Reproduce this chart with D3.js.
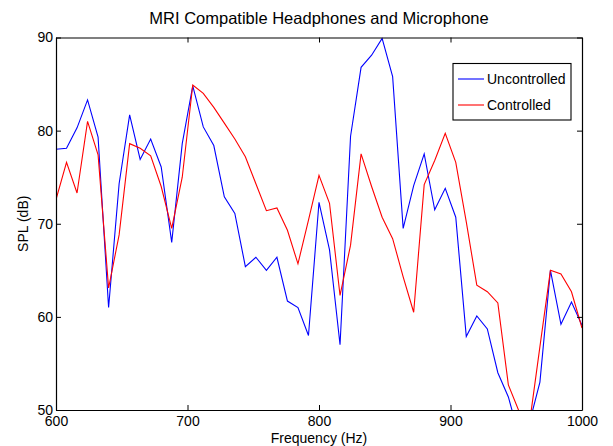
<!DOCTYPE html>
<html><head><meta charset="utf-8">
<script src="https://cdn.jsdelivr.net/npm/d3@7"></script>
<style>body{margin:0;background:#fff}svg{display:block}text{font-family:Arial,"Liberation Sans",Helvetica,sans-serif;fill:#000}</style>
</head><body>
<svg id="chart" width="613" height="446"></svg>
<script>
const title = "MRI Compatible Headphones and Microphone";
const xLabel = "Frequency (Hz)";
const yLabel = "SPL (dB)";
const seriesNames = ["Uncontrolled", "Controlled"];
const frequency = [600,608,616,624,632,640,648,656,664,672,680,688,696,704,712,720,728,736,744,752,760,768,776,784,792,800,808,816,824,832,840,848,856,864,872,880,888,896,904,912,920,928,936,944,952,960,968,976,984,992,1000];
const uncontrolled = [78.0,78.1,80.3,83.3,79.3,61.0,74.3,81.7,76.9,79.1,76.1,68.0,78.6,84.8,80.4,78.4,72.9,71.1,65.4,66.4,65.0,66.4,61.7,61.0,58.0,72.3,67.2,57.0,79.4,86.8,88.1,89.9,85.8,69.5,74.1,77.5,71.5,73.8,70.7,57.9,60.1,58.7,54.0,51.4,47.3,48.6,53.0,65.0,59.2,61.6,59.1];
const controlled = [72.6,76.6,73.3,81.0,77.4,63.1,68.8,78.6,78.1,77.3,74.0,69.5,75.0,84.9,84.0,82.5,80.8,79.1,77.2,74.3,71.4,71.7,69.3,65.7,70.4,75.2,72.2,62.3,67.7,77.5,74.0,70.7,68.4,64.3,60.5,74.2,76.8,79.7,76.6,70.2,63.4,62.7,61.5,52.7,49.9,48.5,56.8,65.0,64.6,62.7,58.8];
const xTicks = [600,700,800,900,1000];
const yTicks = [50,60,70,80,90];
const colors = ["#0000ff", "#ff0000"];

const svg = d3.select("#chart");
const L = 56, R = 582, T = 37.5, B = 410;
const x = d3.scaleLinear().domain([600,1000]).range([L,R]);
const y = d3.scaleLinear().domain([50,90]).range([B,T]);

svg.append("rect").attr("width",613).attr("height",446).attr("fill","#fff");

svg.append("defs").append("clipPath").attr("id","clip")
  .append("rect").attr("x",L).attr("y",T).attr("width",R-L).attr("height",B-T);

const line = d3.line().x((d,i)=>x(frequency[i])).y(d=>y(d));
const g = svg.append("g").attr("clip-path","url(#clip)");
[uncontrolled, controlled].forEach((s,k)=>{
  g.append("path").attr("d",line(s)).attr("fill","none")
   .attr("stroke",colors[k]).attr("stroke-width",1.1).attr("stroke-linejoin","miter");
});

const fs = "14px";
const fmt = d3.format("d");
const ax = [
  {g: d3.axisBottom(x).tickValues(xTicks).tickSizeInner(-5).tickSizeOuter(0).tickPadding(6).tickFormat(fmt), t:`translate(0,${B})`},
  {g: d3.axisTop(x).tickValues(xTicks).tickSizeInner(-5).tickSizeOuter(0).tickFormat(""), t:`translate(0,${T})`},
  {g: d3.axisLeft(y).tickValues(yTicks).tickSizeInner(-5).tickSizeOuter(0).tickPadding(3).tickFormat(fmt), t:`translate(${L},0)`},
  {g: d3.axisRight(y).tickValues(yTicks).tickSizeInner(-5).tickSizeOuter(0).tickFormat(""), t:`translate(${R},0)`}
];
ax.forEach(a=>{
  const gg = svg.append("g").attr("transform",a.t).call(a.g);
  gg.select(".domain").attr("stroke","#000").attr("stroke-width",1.2);
  gg.selectAll(".tick line").attr("stroke","#000");
  gg.selectAll("text").attr("font-size",fs).attr("fill","#000")
    .style("font-family","Arial,'Liberation Sans',sans-serif");
});

svg.append("text").attr("x",(L+R)/2).attr("y",24).attr("text-anchor","middle")
  .attr("font-size","16.5px").text(title);
svg.append("text").attr("x",(L+R)/2).attr("y",443).attr("text-anchor","middle")
  .attr("font-size",fs).text(xLabel);
svg.append("text").attr("transform",`translate(28,${(T+B)/2}) rotate(-90)`)
  .attr("text-anchor","middle").attr("font-size",fs).text(yLabel);

const lg = svg.append("g");
lg.append("rect").attr("x",453).attr("y",63.5).attr("width",118).attr("height",56.5)
  .attr("fill","#fff").attr("stroke","#000").attr("stroke-width",1.1);
seriesNames.forEach((n,k)=>{
  const yy = 79 + k*26;
  lg.append("line").attr("x1",458).attr("x2",484).attr("y1",yy).attr("y2",yy)
    .attr("stroke",colors[k]).attr("stroke-width",1.1);
  lg.append("text").attr("x",487).attr("y",yy+5).attr("font-size",fs).text(n);
});
</script>
</body></html>
